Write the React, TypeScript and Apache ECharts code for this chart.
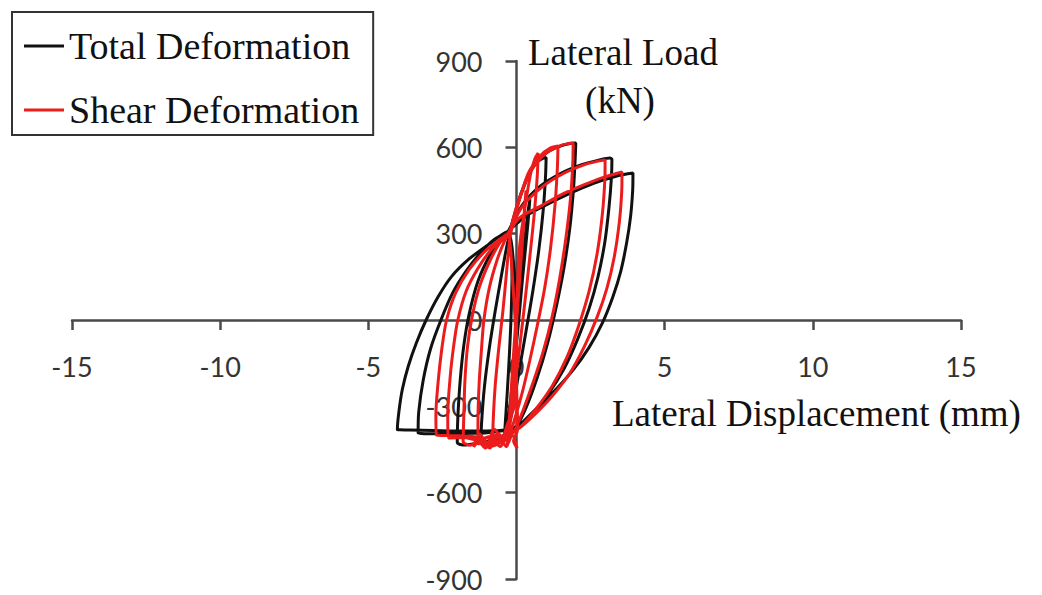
import React, { useEffect, useRef } from "react";
import * as echarts from "echarts";

const xTicks = [-15, -10, -5, 0, 5, 10, 15];
const yTicks = [-900, -600, -300, 0, 300, 600, 900];
const seriesNames = ["Total Deformation", "Shear Deformation"];
const xTitle = "Lateral Displacement (mm)";
const yTitle = ["Lateral Load", "(kN)"];

// Total deformation (black) hysteresis cycles, [mm, kN]
const totalCycle0 = [[0, 0], [0.12, 120], [0.25, 250], [0.38, 370], [0.45, 420], [0.38, 330], [0.2, 140], [0.02, -60], [-0.15, -230], [-0.3, -360], [-0.42, -420], [-0.36, -330], [-0.26, -160], [-0.18, 20], [-0.15, 170], [-0.2, 260], [-0.25, 280]];
const totalCycle1 = [[-0.25, 280], [0.0, 390], [0.3, 480], [0.6, 540], [0.85, 560], [1.0, 565], [0.98, 500], [0.9, 380], [0.75, 240], [0.55, 100], [0.32, -40], [0.1, -170], [-0.1, -290], [-0.3, -380], [-0.6, -415], [-0.95, -428], [-1.2, -430], [-1.18, -360], [-1.08, -230], [-0.92, -100], [-0.72, 30], [-0.5, 160], [-0.32, 260], [-0.22, 300]];
const totalCycle2 = [[-0.22, 300], [0.1, 420], [0.5, 520], [1.0, 580], [1.5, 605], [1.85, 614], [2.0, 615], [1.98, 560], [1.92, 450], [1.8, 320], [1.6, 180], [1.35, 50], [1.05, -80], [0.7, -200], [0.3, -310], [-0.1, -385], [-0.7, -415], [-1.3, -428], [-1.8, -434], [-2.0, -425], [-1.98, -340], [-1.9, -210], [-1.78, -90], [-1.6, 20], [-1.3, 135], [-0.9, 225], [-0.5, 285], [-0.3, 305]];
const totalCycle3 = [[-0.3, 305], [0.2, 400], [0.8, 465], [1.5, 510], [2.2, 540], [2.8, 556], [3.15, 563], [3.22, 558], [3.2, 490], [3.12, 390], [2.98, 270], [2.75, 150], [2.45, 40], [2.05, -70], [1.6, -170], [1.05, -260], [0.5, -330], [0.0, -372], [-0.8, -390], [-1.7, -394], [-2.6, -395], [-3.1, -395], [-3.32, -393], [-3.3, -320], [-3.15, -210], [-2.9, -100], [-2.55, 0], [-2.15, 95], [-1.7, 170], [-1.2, 235], [-0.75, 280], [-0.32, 306]];
const totalCycle4 = [[-0.32, 306], [0.3, 360], [1.0, 400], [1.8, 440], [2.6, 475], [3.3, 498], [3.75, 508], [3.93, 511], [3.92, 450], [3.85, 360], [3.72, 270], [3.52, 170], [3.25, 80], [2.9, -10], [2.45, -95], [1.9, -175], [1.2, -255], [0.5, -325], [0.0, -370], [-0.8, -385], [-1.8, -386], [-2.8, -384], [-3.6, -382], [-4.02, -381], [-3.97, -320], [-3.85, -240], [-3.65, -160], [-3.38, -80], [-3.05, 0], [-2.65, 80], [-2.2, 150], [-1.6, 212], [-0.95, 262], [-0.32, 306], [-0.1, 200], [0, 0]];

// Shear deformation (red) hysteresis cycles, [mm, kN]
const shearCycle0 = [[0, 0], [0.1, 130], [0.2, 280], [0.28, 400], [0.32, 450], [0.26, 360], [0.12, 160], [-0.02, -40], [-0.14, -220], [-0.26, -370], [-0.32, -440], [-0.24, -340], [-0.12, -150], [0.0, 40], [0.1, 250]];
const shearCycle1 = [[0.1, 250], [0.3, 400], [0.48, 510], [0.62, 560], [0.73, 580], [0.7, 500], [0.6, 370], [0.45, 220], [0.28, 60], [0.1, -100], [-0.08, -250], [-0.22, -360], [-0.4, -415], [-0.6, -430], [-0.8, -438], [-0.79, -360], [-0.72, -230], [-0.6, -100], [-0.46, 30], [-0.35, 150], [-0.26, 250], [-0.2, 300]];
const shearCycle2 = [[-0.2, 300], [0.05, 400], [0.4, 510], [0.8, 570], [1.15, 598], [1.4, 605], [1.38, 530], [1.3, 400], [1.15, 250], [0.95, 110], [0.7, -20], [0.45, -140], [0.2, -250], [-0.05, -340], [-0.25, -400], [-0.5, -425], [-0.7, -400], [-0.9, -440], [-1.1, -418], [-1.3, -432], [-1.3, -350], [-1.26, -220], [-1.18, -100], [-1.1, 0], [-0.92, 110], [-0.65, 210], [-0.4, 275], [-0.25, 300]];
const shearCycle3 = [[-0.25, 300], [0.05, 410], [0.5, 520], [1.0, 580], [1.5, 607], [1.8, 614], [1.91, 615], [1.9, 545], [1.82, 420], [1.66, 280], [1.45, 140], [1.2, 10], [0.9, -110], [0.55, -220], [0.2, -320], [-0.1, -390], [-0.35, -410], [-0.55, -440], [-0.8, -415], [-1.05, -445], [-1.3, -420], [-1.55, -435], [-1.8, -422], [-1.78, -340], [-1.74, -210], [-1.65, -90], [-1.5, 10], [-1.25, 115], [-0.9, 205], [-0.55, 270], [-0.28, 302]];
const shearCycle4 = [[-0.28, 302], [0.2, 395], [0.9, 465], [1.6, 510], [2.3, 540], [2.75, 552], [2.99, 556], [2.98, 485], [2.9, 370], [2.72, 230], [2.45, 100], [2.1, -20], [1.7, -130], [1.2, -230], [0.65, -310], [0.15, -370], [-0.3, -400], [-0.6, -425], [-0.9, -405], [-1.3, -418], [-1.8, -408], [-2.3, -410], [-2.32, -330], [-2.24, -200], [-2.12, -90], [-1.98, 0], [-1.7, 100], [-1.3, 180], [-0.85, 245], [-0.3, 300]];
const shearCycle5 = [[-0.3, 300], [0.1, 355], [0.8, 395], [1.6, 440], [2.4, 475], [3.0, 498], [3.4, 510], [3.56, 514], [3.55, 445], [3.47, 340], [3.3, 220], [3.05, 110], [2.72, 10], [2.3, -90], [1.8, -185], [1.2, -265], [0.6, -330], [0.1, -375], [-0.4, -400], [-1.0, -410], [-1.6, -404], [-2.2, -402], [-2.7, -400], [-2.72, -330], [-2.64, -210], [-2.52, -100], [-2.36, 0], [-2.05, 95], [-1.6, 175], [-1.05, 240], [-0.5, 285], [-0.3, 300]];
const shearCycle6 = [[-0.3, 300], [-0.12, 120], [-0.02, -100], [-0.08, -300], [-0.3, -360], [-0.5, -410], [-0.75, -380], [-1.0, -430], [-1.25, -395], [-1.45, -440], [-1.2, -420], [-0.9, -445], [-0.6, -395], [-0.35, -440], [-0.15, -400], [0.02, -445], [-0.1, -420], [0.04, -380], [0.0, -200], [0, 0]];

const totalPath = [...totalCycle0, ...totalCycle1, ...totalCycle2, ...totalCycle3, ...totalCycle4];
const shearPath = [...shearCycle0, ...shearCycle1, ...shearCycle2, ...shearCycle3, ...shearCycle4, ...shearCycle5, ...shearCycle6];

const axisColor = "#4a4a4a";
const labelFont = "Lato";
const serifFont = "'Liberation Serif', 'Times New Roman', serif";

const W = 1042;
const H = 595;
const gridLeft = 72;
const gridRight = 81;
const gridTop = 61;
const gridBottom = 16;

export default function App() {
  const ref = useRef<HTMLDivElement>(null);
  useEffect(() => {
    if (!ref.current) return;
    const chart = echarts.init(ref.current, undefined, { renderer: "svg" });
    const plotW = W - gridLeft - gridRight;
    const plotH = H - gridTop - gridBottom;
    const xMin = xTicks[0];
    const xMax = xTicks[xTicks.length - 1];
    const yMin = yTicks[0];
    const yMax = yTicks[yTicks.length - 1];
    // offsets placing the axes through the origin
    const xAxisOffset = -plotH * (0 - yMin) / (yMax - yMin);
    const yAxisOffset = -plotW * (0 - xMin) / (xMax - xMin);
    chart.setOption({
      animation: false,
      backgroundColor: "#ffffff",
      grid: { left: gridLeft, right: gridRight, top: gridTop, bottom: gridBottom, containLabel: false, outerBoundsMode: "none" },
      legend: {
        orient: "vertical",
        left: 12,
        top: 12,
        padding: [13, 14, 4, 12],
        itemGap: 22,
        itemWidth: 40,
        itemHeight: 3,
        icon: "rect",
        borderColor: "#333",
        borderWidth: 2,
        textStyle: { fontFamily: serifFont, fontSize: 38, color: "#111", lineHeight: 42 },
        data: seriesNames,
      },
      xAxis: {
        type: "value",
        min: xMin,
        max: xMax,
        interval: xTicks[1] - xTicks[0],
        position: "bottom",
        offset: xAxisOffset,
        axisLine: { onZero: false, lineStyle: { color: axisColor, width: 2.5 } },
        axisTick: { show: true, inside: false, length: 10, lineStyle: { color: axisColor, width: 2.5 } },
        axisLabel: { margin: 33, fontFamily: labelFont, fontSize: 27, color: "#333", hideOverlap: false },
        splitLine: { show: false },
      },
      yAxis: {
        type: "value",
        min: yMin,
        max: yMax,
        interval: yTicks[1] - yTicks[0],
        position: "left",
        offset: yAxisOffset,
        axisLine: { onZero: false, lineStyle: { color: axisColor, width: 2.5 } },
        axisTick: { show: true, inside: false, length: 11, lineStyle: { color: axisColor, width: 2.5 } },
        axisLabel: { margin: 34, fontFamily: labelFont, fontSize: 27, color: "#333", hideOverlap: false },
        splitLine: { show: false },
      },
      series: [
        {
          name: seriesNames[0],
          type: "line",
          data: totalPath,
          showSymbol: false,
          smooth: 0.3,
          color: "#111111",
          lineStyle: { color: "#111111", width: 3 },
          z: 2,
        },
        {
          name: seriesNames[1],
          type: "line",
          data: shearPath,
          showSymbol: false,
          smooth: 0.3,
          color: "#ec1c1c",
          lineStyle: { color: "#ec1c1c", width: 3 },
          z: 3,
        },
      ],
      graphic: [
        {
          type: "text",
          x: 612,
          y: 413,
          style: { text: xTitle, fontFamily: serifFont, fontSize: 37, fill: "#111", verticalAlign: "middle", align: "left" },
        },
        {
          type: "text",
          x: 623,
          y: 52,
          style: { text: yTitle[0], fontFamily: serifFont, fontSize: 37, fill: "#111", verticalAlign: "middle", align: "center" },
        },
        {
          type: "text",
          x: 620,
          y: 100,
          style: { text: yTitle[1], fontFamily: serifFont, fontSize: 37, fill: "#111", verticalAlign: "middle", align: "center" },
        },
      ],
    });
    return () => chart.dispose();
  }, []);
  return <div ref={ref} style={{ position: "absolute", left: 0, top: 0, width: W, height: H }} />;
}
